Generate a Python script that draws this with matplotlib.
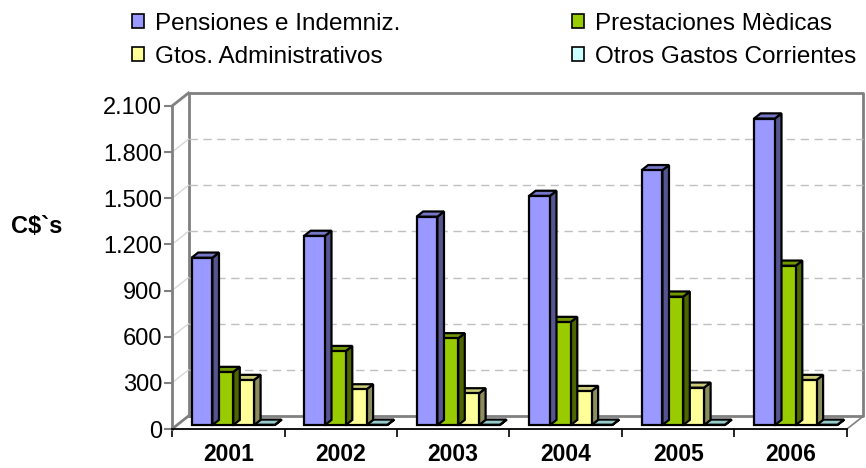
import matplotlib
matplotlib.use("Agg")
import matplotlib.pyplot as plt
from matplotlib.patches import Polygon, Rectangle, Patch
import numpy as np

plt.rcParams['font.family'] = ['Liberation Sans', 'DejaVu Sans']

# ---------------- data ----------------
years = ["2001", "2002", "2003", "2004", "2005", "2006"]
series_names = ["Pensiones e Indemniz.", "Prestaciones Mèdicas",
                "Gtos. Administrativos", "Otros Gastos Corrientes"]
pensiones = [1088, 1230, 1355, 1490, 1657, 1993]
prestaciones = [345, 481, 564, 670, 835, 1036]
administrativos = [293, 232, 206, 221, 243, 293]
otros = [2, 2, 2, 2, 2, 2]
y_ticks = [0, 300, 600, 900, 1200, 1500, 1800, 2100]
y_tick_labels = ["0", "300", "600", "900", "1.200", "1.500", "1.800", "2.100"]
y_label = "C$`s"

series_values = [pensiones, prestaciones, administrativos, otros]
front_colors = ["#9999FF", "#99CC00", "#FFFF99", "#CCFFFF"]
side_colors = ["#55558F", "#4D6600", "#8C8C5C", "#7AA3A3"]
top_colors = ["#7777C8", "#739900", "#CCCC7A", "#99CCCC"]

# ---------------- figure ----------------
W, H = 866, 468
fig = plt.figure(figsize=(W / 100, H / 100), dpi=100)
ax_left, ax_right, ax_top, ax_bottom = 172, 847, 106, 429
ax = fig.add_axes([ax_left / W, (H - ax_bottom) / H,
                   (ax_right - ax_left) / W, (ax_bottom - ax_top) / H])
n = len(years)
ymax = y_ticks[-1]
ax.set_xlim(0, n)
ax.set_ylim(0, ymax)

px_x = (ax_right - ax_left) / n          # pixels per category
px_y = (ax_bottom - ax_top) / ymax        # pixels per value unit
DX = 16.5 / px_x                          # depth offset in data units
DY = 13.0 / px_y

wall_col = "#808080"
grid_col = "#C0C0C0"

# back wall & floor outlines
ax.plot([DX, DX, n + DX, n + DX, DX], [DY, ymax + DY, ymax + DY, DY, DY],
        color=wall_col, lw=2, clip_on=False, zorder=1)
ax.plot([0, DX], [ymax, ymax + DY], color=wall_col, lw=2, clip_on=False, zorder=1)
ax.plot([0, DX], [0, DY], color=wall_col, lw=2, clip_on=False, zorder=1)
ax.plot([n, n + DX], [0, DY], color=wall_col, lw=1.2, clip_on=False, zorder=1)

# gridlines: back wall dashed + left-wall diagonals
for t in y_ticks[1:-1]:
    ax.plot([DX, n + DX], [t + DY, t + DY], color=grid_col, lw=1,
            dashes=(6, 4), clip_on=False, zorder=1)
    ax.plot([0, DX], [t, t + DY], color="#D8D8D8", lw=1, clip_on=False, zorder=1)

# bars (pseudo 3D)
nser = len(series_values)
gap = 0.13
bw = (1 - 2 * gap) / nser
f0, fd = 0.3, 0.4
for j, vals in enumerate(series_values):
    for i, v in enumerate(vals):
        x0 = i + gap + j * bw + f0 * DX
        y0 = f0 * DY
        ddx, ddy = fd * DX, fd * DY
        z = 3 + i * 0.01 - j * 0.001
        side = Polygon([(x0 + bw, y0), (x0 + bw + ddx, y0 + ddy),
                        (x0 + bw + ddx, y0 + v + ddy), (x0 + bw, y0 + v)],
                       closed=True, fc=side_colors[j], ec="black", lw=1.6,
                       clip_on=False, zorder=z, joinstyle="miter")
        top = Polygon([(x0, y0 + v), (x0 + bw, y0 + v),
                       (x0 + bw + ddx, y0 + v + ddy), (x0 + ddx, y0 + v + ddy)],
                      closed=True, fc=top_colors[j], ec="black", lw=1.6,
                      clip_on=False, zorder=z, joinstyle="miter")
        front = Rectangle((x0, y0), bw, v, fc=front_colors[j], ec="black",
                          lw=1.6, clip_on=False, zorder=z + 0.0005,
                          joinstyle="miter")
        ax.add_patch(side)
        ax.add_patch(top)
        ax.add_patch(front)

# axes / spines
for s in ["top", "right"]:
    ax.spines[s].set_visible(False)
ax.spines["left"].set_color(wall_col)
ax.spines["left"].set_linewidth(2)
ax.spines["bottom"].set_color("black")
ax.spines["bottom"].set_linewidth(1.3)
ax.spines["left"].set_zorder(2)
ax.spines["bottom"].set_zorder(2)
ax.set_facecolor("none")

ax.set_yticks(y_ticks)
ax.set_yticklabels(y_tick_labels, fontsize=17)
ax.tick_params(axis="y", length=6, width=1.5, color=wall_col, pad=1)

ax.set_xticks(np.arange(n + 1))
ax.set_xticklabels([])
ax.tick_params(axis="x", which="major", length=6, width=1.2, color="black")
ax.set_xticks(np.arange(n) + 0.5, minor=True)
ax.set_xticklabels(years, minor=True, fontsize=16.5, fontweight="bold")
ax.tick_params(axis="x", which="minor", length=0, pad=10)

fig.text(37 / W, 1 - 226 / H, y_label, fontsize=17, fontweight="bold",
         ha="center", va="center")

# legend
handles = [Patch(fc=front_colors[k], ec="black", lw=1.2) for k in range(nser)]
order = [0, 2, 1, 3]
fig.legend([handles[k] for k in order], [series_names[k] for k in order],
           ncol=2, loc="upper left", bbox_to_anchor=(132 / W, 1 - 13 / H),
           frameon=False, fontsize=17.5, handlelength=0.5, handleheight=0.5,
           handletextpad=0.45, columnspacing=7.05, labelspacing=0.45,
           borderpad=0, borderaxespad=0)

fig.savefig("out.png", dpi=100)
